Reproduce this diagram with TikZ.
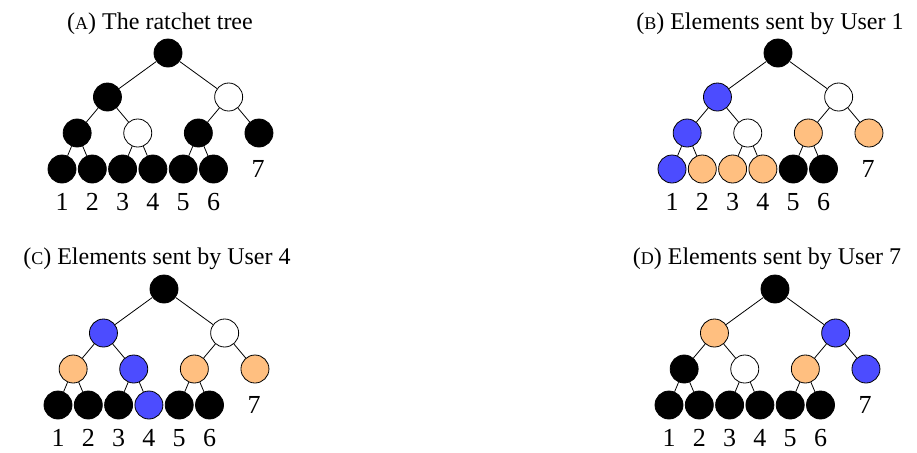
\documentclass[tikz,border=0pt]{standalone}
\usepackage{fontspec}
\setmainfont{Liberation Serif}
\usepackage{tikz}

\colorlet{userblue}{blue!70}
\colorlet{userorange}{orange!50}

\tikzset{
    elem/.style={circle, draw, minimum size=14pt, inner sep=0pt},
    blk/.style={elem, fill=black},
    wht/.style={elem, fill=white},
    blu/.style={elem, fill=userblue},
    org/.style={elem, fill=userorange},
    num/.style={font=\fontsize{13}{13}\selectfont, inner sep=0pt},
    caption/.style={anchor=base, font=\fontsize{12}{12}\selectfont}
}

% small capital letter of a sub caption
\newcommand{\subtag}[1]{({\fontsize{9}{9}\selectfont #1})}

% one ratchet tree: #1 prefix, #2 root, #3 middle pair, #4 lower four, #5 leaves
\newcommand{\drawratchet}[5]{%
    \foreach \c [count=\i] in {#5} \node[\c] (#1leaf\i) at ({30.3*(\i-1)},0) {};
    \foreach \c [count=\i] in {#4} \node[\c] (#1low\i) at ({15.15+60.6*(\i-1)},-36) {};
    \foreach \c [count=\i] in {#3} \node[\c] (#1mid\i) at ({45.45+121.2*(\i-1)},-72) {};
    \node[#2] (#1root) at (106,-116) {};
    % edges
    \draw (#1root) -- (#1mid1);
    \draw (#1root) -- (#1mid2);
    \foreach \i/\j in {1/1,1/2,2/3,2/4} \draw (#1mid\i) -- (#1low\j);
    \foreach \i/\j in {1/1,1/2,2/3,2/4,3/5,3/6} \draw (#1low\i) -- (#1leaf\j);
    % leaf numbers
    \foreach \i in {1,...,6} \node[num] (#1num\i) at ({30.3*(\i-1)},33) {\i};
    \node[num] (#1seven) at (196,0) {7};
}

\begin{document}
\begin{tikzpicture}[x=0.5pt, y=-0.5pt]
    \useasboundingbox (0,0) rectangle (917,452);

    % (A) full tree
    \node[caption] (titleA) at (160,29) {\subtag{A} The ratchet tree};
    \begin{scope}[shift={(62,169)}]
        \drawratchet{a}{blk}{blk,wht}{blk,wht,blk,blk}{blk,blk,blk,blk,blk,blk}
    \end{scope}

    % (B) user 1
    \node[caption] (titleB) at (770,29) {\subtag{B} Elements sent by User 1};
    \begin{scope}[shift={(672,169)}]
        \drawratchet{b}{blk}{blu,wht}{blu,wht,org,org}{blu,org,org,org,blk,blk}
    \end{scope}

    % (C) user 4
    \node[caption] (titleC) at (157,264) {\subtag{C} Elements sent by User 4};
    \begin{scope}[shift={(58,405)}]
        \drawratchet{c}{blk}{blu,wht}{org,blu,org,org}{blk,blk,blk,blu,blk,blk}
    \end{scope}

    % (D) user 7
    \node[caption] (titleD) at (767,264) {\subtag{D} Elements sent by User 7};
    \begin{scope}[shift={(669,405)}]
        \drawratchet{d}{blk}{org,blu}{blk,wht,org,blu}{blk,blk,blk,blk,blk,blk}
    \end{scope}
\end{tikzpicture}
\end{document}
